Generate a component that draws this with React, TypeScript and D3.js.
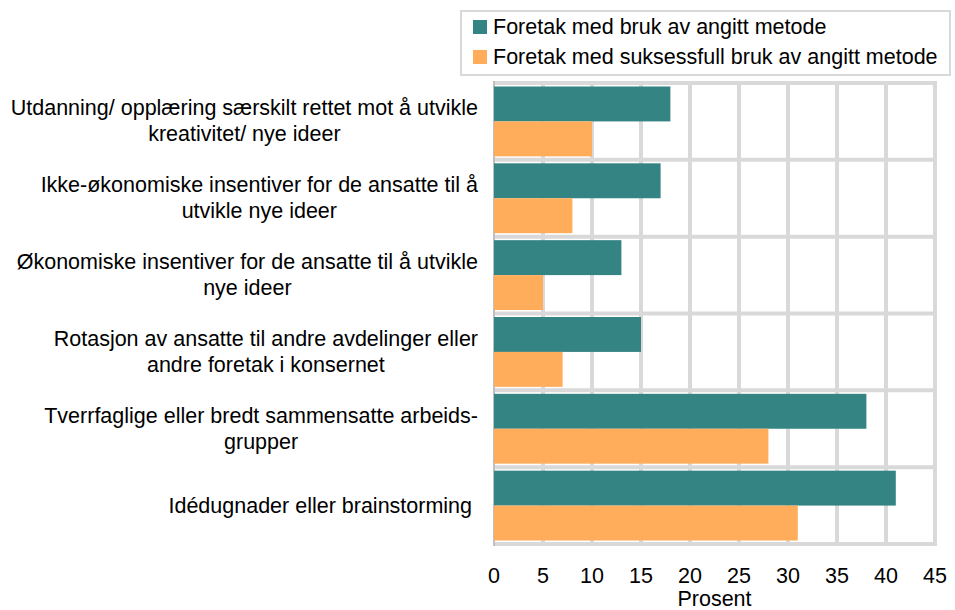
import React, { useEffect, useRef } from "react";
import * as d3 from "d3";

// categories, each one as its wrapped lines
const categories = [
  ["Utdanning/ opplæring særskilt rettet mot å utvikle", "kreativitet/ nye ideer"],
  ["Ikke-økonomiske insentiver for de ansatte til å", "utvikle nye ideer"],
  ["Økonomiske insentiver for de ansatte til å utvikle", "nye ideer"],
  ["Rotasjon av ansatte til andre avdelinger eller", "andre foretak i konsernet"],
  ["Tverrfaglige eller bredt sammensatte arbeids-", "grupper"],
  ["Idédugnader eller brainstorming "],
];
const seriesNames = [
  "Foretak med bruk av angitt metode",
  "Foretak med suksessfull bruk av angitt metode",
];
const brukValues = [18, 17, 13, 15, 38, 41];
const suksessValues = [10, 8, 5, 7, 28, 31];
const xTicks = [0, 5, 10, 15, 20, 25, 30, 35, 40, 45];
const colors = ["#358484", "#ffad5b"];

const W = 955, H = 610;
const margin = { top: 83, left: 494, right: 20, bottom: 66 };
const font = "'Liberation Sans', Arial, sans-serif";
const fs = 21.5;

export default function App() {
  const ref = useRef<SVGSVGElement>(null);

  useEffect(() => {
    const svg = d3.select(ref.current);
    svg.selectAll("*").remove();

    const x = d3.scaleLinear().domain([0, 45]).range([margin.left, 935]);
    const y = d3.scaleBand<number>()
      .domain(d3.range(categories.length))
      .range([margin.top, H - margin.bottom])
      .paddingInner(0).paddingOuter(0);
    const inner = d3.scaleBand<number>().domain([0, 1]).range([0, y.bandwidth()]).paddingOuter(0.1).paddingInner(0);

    const grid = svg.append("g").attr("stroke", "#d9d9d9").attr("stroke-width", 4);
    // vertical grid lines
    grid.selectAll("line.v").data(xTicks.slice(1)).join("line")
      .attr("class", "v")
      .attr("x1", d => x(d)).attr("x2", d => x(d))
      .attr("y1", margin.top).attr("y2", H - margin.bottom);
    // horizontal grid lines
    grid.selectAll("line.h").data(d3.range(categories.length + 1)).join("line")
      .attr("class", "h")
      .attr("x1", margin.left).attr("x2", x(45) + 2)
      .attr("y1", d => margin.top + d * y.bandwidth())
      .attr("y2", d => margin.top + d * y.bandwidth());

    // left axis line
    svg.append("line")
      .attr("x1", margin.left).attr("x2", margin.left)
      .attr("y1", margin.top - 2).attr("y2", H - margin.bottom + 2)
      .attr("stroke", "#bfbfbf").attr("stroke-width", 2);

    const series = [brukValues, suksessValues];
    series.forEach((vals, s) => {
      svg.append("g").selectAll("rect").data(vals).join("rect")
        .attr("x", x(0))
        .attr("y", (d, i) => (y(i) as number) + (inner(s) as number))
        .attr("width", d => x(d) - x(0))
        .attr("height", inner.bandwidth())
        .attr("fill", colors[s]);
    });

    // x tick labels
    svg.append("g").selectAll("text").data(xTicks).join("text")
      .attr("x", d => x(d)).attr("y", 583)
      .attr("text-anchor", "middle")
      .attr("font-family", font).attr("font-size", fs).attr("fill", "#000")
      .text(d => d);
    svg.append("text")
      .attr("x", x(22.5)).attr("y", 606)
      .attr("text-anchor", "middle")
      .attr("font-family", font).attr("font-size", fs)
      .text("Prosent");

    // category labels, lines centred inside a right-aligned block
    const labelRight = 478;
    const lineH = 26;
    categories.forEach((lines, i) => {
      const cy = (y(i) as number) + y.bandwidth() / 2;
      const g = svg.append("g");
      const texts = g.selectAll("text").data(lines).join("text")
        .attr("font-family", font).attr("font-size", fs)
        .attr("text-anchor", "middle")
        .style("white-space", "pre")
        .attr("y", (d, k) => cy + (k - (lines.length - 1) / 2) * lineH + 7)
        .text(d => d);
      let maxW = 0;
      texts.each(function () {
        maxW = Math.max(maxW, (this as SVGTextElement).getComputedTextLength());
      });
      texts.attr("x", labelRight - maxW / 2);
    });

    // legend
    const lg = svg.append("g");
    lg.append("rect")
      .attr("x", 461).attr("y", 11).attr("width", 489).attr("height", 64)
      .attr("fill", "#fff").attr("stroke", "#d9d9d9").attr("stroke-width", 2);
    seriesNames.forEach((name, s) => {
      lg.append("rect")
        .attr("x", 473).attr("y", 20 + s * 30).attr("width", 14).attr("height", 14)
        .attr("fill", colors[s]);
      lg.append("text")
        .attr("x", 493).attr("y", 34 + s * 30)
        .attr("font-family", font).attr("font-size", fs)
        .text(name);
    });
  }, []);

  return (
    <svg ref={ref} width={W} height={H}
      style={{ position: "absolute", left: 0, top: 0, background: "#fff" }} />
  );
}
